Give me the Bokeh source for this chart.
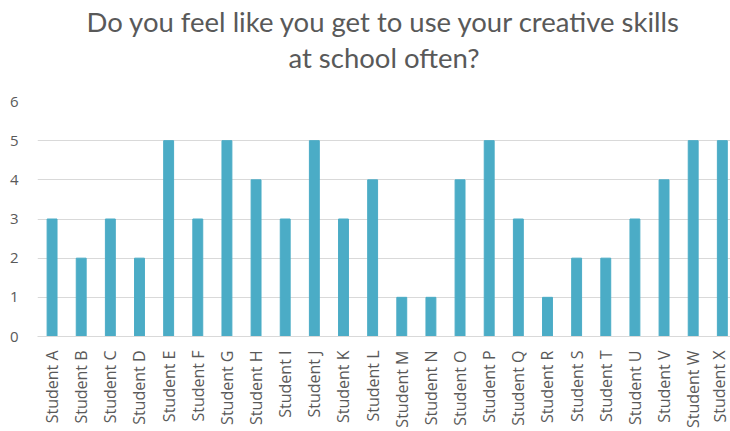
from bokeh.plotting import figure
from bokeh.models import Range1d, FixedTicker, Title
from bokeh.embed import file_html
from bokeh.resources import INLINE

students = ["Student " + c for c in "ABCDEFGHIJKLMNOPQRSTUVWX"]
scores = [3, 2, 3, 2, 5, 3, 5, 4, 3, 5, 3, 4, 1, 1, 4, 5, 3, 1, 2, 2, 3, 4, 5, 5]
title_lines = ["Do you feel like you get to use your creative skills", "at school often?"]
y_ticks = [0, 1, 2, 3, 4, 5, 6]

xs = [i + 0.5 for i in range(len(students))]

p = figure(width=730, height=431, output_backend="svg", toolbar_location=None,
           x_range=Range1d(0, 23.78), y_range=Range1d(0, 6),
           min_border_left=37, min_border_right=0, min_border_top=101, min_border_bottom=95)
p.title = None
p.outline_line_color = None
p.background_fill_color = "white"
p.border_fill_color = "white"

p.vbar(x=xs, top=scores, width=0.34, bottom=0, color="#4BACC6")

grey = "#595959"
# spacer between the title and the plot area
p.add_layout(Title(text=" ", text_font_size="23px", standoff=0), "above")
for t in [title_lines[1], title_lines[0]]:
    p.add_layout(Title(text=t, align="center", text_font="Lato", text_font_size="27.5px",
                       text_font_style="normal", text_color=grey, standoff=0, offset=0), "above")
p.above[1].standoff = 0
p.above[2].standoff = 2

p.xaxis.ticker = FixedTicker(ticks=xs)
p.xaxis.major_label_overrides = {x: s for x, s in zip(xs, students)}
p.xaxis.major_label_orientation = 1.5708
p.xaxis.major_tick_line_color = None
p.xaxis.minor_tick_line_color = None
p.xaxis.axis_line_color = "#d9d9d9"
p.xaxis.major_label_text_font = "Open Sans"
p.xaxis.major_label_text_font_size = "16px"
p.xaxis.major_label_text_color = grey
p.xaxis.major_label_standoff = 8

p.yaxis.ticker = FixedTicker(ticks=y_ticks)
p.yaxis.axis_line_color = None
p.yaxis.major_tick_line_color = None
p.yaxis.minor_tick_line_color = None
p.yaxis.major_label_text_font = "Open Sans"
p.yaxis.major_label_text_font_size = "15px"
p.yaxis.major_label_text_color = grey
p.yaxis.major_label_standoff = 13

p.xgrid.grid_line_color = None
p.ygrid.grid_line_color = "#d9d9d9"
p.ygrid.ticker = FixedTicker(ticks=y_ticks)

open("out.html", "w").write(file_html(p, INLINE))
